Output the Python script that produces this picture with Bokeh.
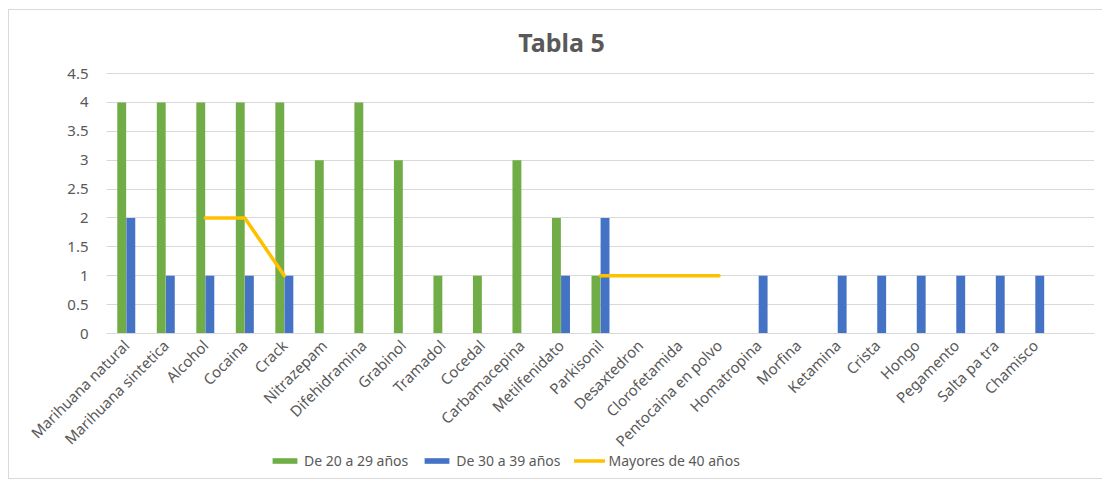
import math
from bokeh.plotting import figure
from bokeh.models import (ColumnDataSource, Range1d, FixedTicker, Legend, LegendItem, Label)
from bokeh.transform import dodge
from bokeh.embed import file_html
from bokeh.resources import INLINE

categories = ["Marihuana natural", "Marihuana sintetica", "Alcohol", "Cocaina", "Crack",
              "Nitrazepam", "Difehidramina", "Grabinol", "Tramadol", "Cocedal",
              "Carbamacepina", "Metilfenidato", "Parkisonil", "Desaxtedron", "Clorofetamida",
              "Pentocaina en polvo", "Homatropina", "Morfina", "Ketamina", "Crista", "Hongo",
              "Pegamento", "Salta pa tra", "Chamisco"]
de_20_29 = [4, 4, 4, 4, 4, 3, 4, 3, 1, 1, 3, 2, 1, 0, 0, 0, 0, 0, 0, 0, 0, 0, 0, 0]
de_30_39 = [2, 1, 1, 1, 1, 0, 0, 0, 0, 0, 0, 1, 2, 0, 0, 0, 1, 0, 1, 1, 1, 1, 1, 1]
nan = float("nan")
mayores_40 = [nan, nan, 2, 2, 1, nan, nan, nan, nan, nan, nan, nan, 1, 1, 1, 1,
              nan, nan, nan, nan, nan, nan, nan, nan]
y_ticks = [0, 0.5, 1, 1.5, 2, 2.5, 3, 3.5, 4, 4.5]

xs = [i + 0.5 for i in range(len(categories))]
src = ColumnDataSource(dict(x=xs, g=de_20_29, b=de_30_39, y=mayores_40))

GREEN = "#70ad47"
BLUE = "#4472c4"
YELLOW = "#ffc000"
TXT = "#595959"
FONT = "Noto Sans"

# Layout (pixels): the frame covers the whole canvas; the plot area proper
# runs x 105..1093 and y 72 (4.5) .. 332 (0); axes are pinned with fixed_location.
FIG_W, FIG_H = 1093, 468
FRAME_W = 1085
PLOT_L, PLOT_R = 105 - 8, 1093 - 8        # within frame
PLOT_T, PLOT_B = 72 - 9, 332 - 9
x_per_px = 25.0 / (PLOT_R - PLOT_L)
y_per_px = 4.5 / (PLOT_B - PLOT_T)
x_start = -PLOT_L * x_per_px
y_top = 4.5 + PLOT_T * y_per_px
y_bottom = -(FIG_H - PLOT_B) * y_per_px

p = figure(width=FIG_W, height=FIG_H, frame_width=FRAME_W, frame_height=FIG_H,
           output_backend="svg", toolbar_location=None,
           x_range=Range1d(x_start, 25), y_range=Range1d(y_bottom, y_top),
           min_border_left=0, min_border_right=8, min_border_top=0, min_border_bottom=0)
p.margin = (9, 0, 0, 8)
p.styles = {"border": "1px solid #d9d9d9"}
p.outline_line_color = None
p.background_fill_color = "white"
p.border_fill_color = "white"

gbar = p.vbar(x=dodge("x", -0.115), top="g", width=0.225, source=src,
              fill_color=GREEN, line_color=None)
bbar = p.vbar(x=dodge("x", 0.115), top="b", width=0.225, source=src,
              fill_color=BLUE, line_color=None)
ln = p.line(x="x", y="y", source=src, line_color=YELLOW, line_width=3.5,
            line_cap="round", line_join="round")

p.yaxis.fixed_location = 0
p.yaxis.bounds = (0, 4.5)
p.yaxis.ticker = FixedTicker(ticks=y_ticks)
p.yaxis.major_label_overrides = {0: "0", 4.5: "4.5", 4: "4", 3: "3", 2: "2", 1: "1"}
p.yaxis.axis_line_color = None
p.yaxis.major_tick_line_color = None
p.yaxis.minor_tick_line_color = None
p.yaxis.major_label_text_font = FONT
p.yaxis.major_label_text_font_size = "15px"
p.yaxis.major_label_text_color = TXT
p.yaxis.major_label_standoff = 12

p.xaxis.fixed_location = 0
p.xaxis.bounds = (0, 25)
p.xaxis.ticker = FixedTicker(ticks=xs)
p.xaxis.major_label_overrides = {x: c for x, c in zip(xs, categories)}
p.xaxis.major_label_orientation = math.pi / 4
p.xaxis.axis_line_color = "#d9d9d9"
p.xaxis.major_tick_line_color = None
p.xaxis.minor_tick_line_color = None
p.xaxis.major_label_text_font = FONT
p.xaxis.major_label_text_font_size = "15px"
p.xaxis.major_label_text_color = TXT
p.xaxis.major_label_standoff = 3

p.xgrid.grid_line_color = None
p.ygrid.ticker = FixedTicker(ticks=y_ticks)
p.ygrid.grid_line_color = "#d9d9d9"
p.ygrid.cross_bounds = (0, 25)

p.add_layout(Label(x=(560 - 105) * x_per_px, y=(332 - 40) * y_per_px, text="Tabla 5",
                   text_align="center", text_baseline="middle", text_font=FONT,
                   text_font_size="25px", text_font_style="bold", text_color=TXT))

legend = Legend(items=[LegendItem(label="De 20 a 29 años", renderers=[gbar]),
                       LegendItem(label="De 30 a 39 años", renderers=[bbar]),
                       LegendItem(label="Mayores de 40 años", renderers=[ln])],
                orientation="horizontal", location=(260, 8),
                glyph_width=31, glyph_height=7, label_standoff=4, spacing=13,
                padding=0, margin=0,
                label_text_font=FONT, label_text_font_size="14px", label_text_color=TXT,
                border_line_color=None, background_fill_alpha=0)
p.add_layout(legend, "center")

open("out.html", "w").write(file_html(p, INLINE))
